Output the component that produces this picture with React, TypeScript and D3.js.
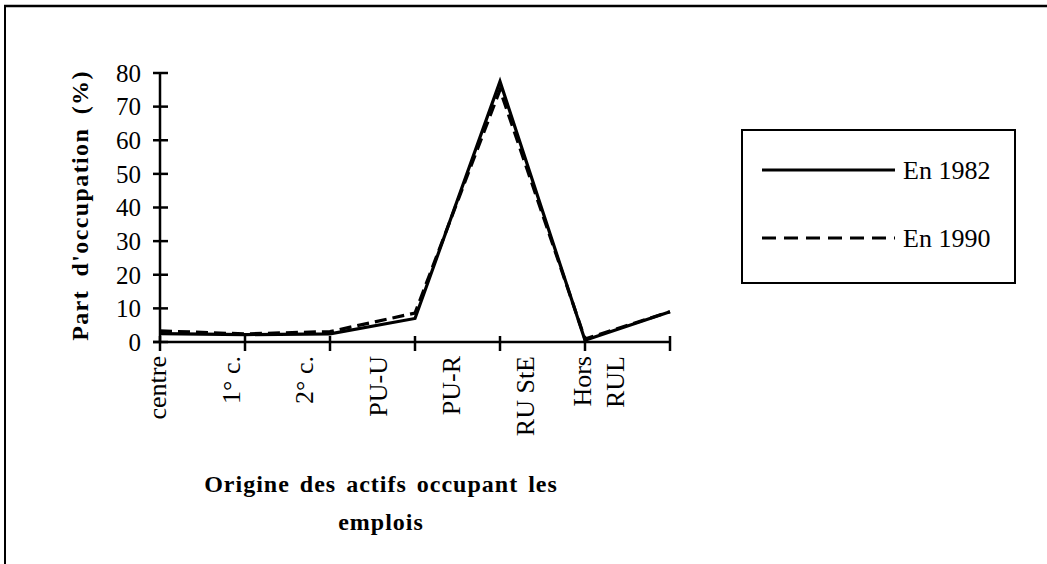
import { useMemo } from 'react';
import * as d3 from 'd3';

const categories = ['centre', '1° c.', '2° c.', 'PU-U', 'PU-R', 'RU StE', 'Hors RUL'];
const values1982 = [2.5, 2.2, 2.4, 7, 77.5, 0.5, 9];
const values1990 = [3.3, 2.4, 3.1, 8.6, 75, 0.9, 9];
const yTickValues = [0, 10, 20, 30, 40, 50, 60, 70, 80];
const seriesNames = ['En 1982', 'En 1990'];

const W = 1047;
const H = 564;
const PLOT = { left: 160, right: 670, top: 73, bottom: 342 };
const FONT = '"Liberation Serif", "Times New Roman", serif';

export default function App() {
  const chart = useMemo(() => {
    const x = d3.scalePoint<string>().domain(categories).range([PLOT.left, PLOT.right]);
    // labels in the scanned original sit on their own, narrower spacing
    const xLabel = d3.scalePoint<string>().domain(categories).range([157, 598]);
    const y = d3.scaleLinear().domain([0, 80]).range([PLOT.bottom, PLOT.top]);
    const line = d3
      .line<number>()
      .x((_, i) => x(categories[i]) ?? 0)
      .y((d) => y(d));
    return {
      x,
      xLabel,
      y,
      path1982: line(values1982) ?? '',
      path1990: line(values1990) ?? '',
    };
  }, []);

  const { x, xLabel, y } = chart;

  return (
    <svg
      width={W}
      height={H}
      viewBox={`0 0 ${W} ${H}`}
      style={{ position: 'absolute', left: 0, top: 0, background: '#fff', display: 'block' }}
      fontFamily={FONT}
    >
      {/* outer frame (only top and left edges visible in scan) */}
      <line x1={4} y1={6} x2={W} y2={6} stroke="#000" strokeWidth={2.5} />
      <line x1={5} y1={5} x2={5} y2={H} stroke="#000" strokeWidth={2} />

      {/* Y axis */}
      <line x1={PLOT.left} y1={y(80)} x2={PLOT.left} y2={y(0)} stroke="#000" strokeWidth={2.5} />
      {yTickValues.map((v) => (
        <g key={v}>
          <line x1={PLOT.left - 7} y1={y(v)} x2={PLOT.left + 8} y2={y(v)} stroke="#000" strokeWidth={2.5} />
          <text x={PLOT.left - 19} y={y(v)} dy="0.35em" textAnchor="end" fontSize={25} fill="#000">
            {v}
          </text>
        </g>
      ))}

      {/* X axis */}
      <line x1={PLOT.left - 7} y1={y(0)} x2={PLOT.right} y2={y(0)} stroke="#000" strokeWidth={2.5} />
      {categories.map((c) => (
        <line
          key={c}
          x1={x(c)}
          y1={y(0) - 6}
          x2={x(c)}
          y2={y(0) + 9}
          stroke="#000"
          strokeWidth={2.5}
        />
      ))}

      {/* X category labels, rotated */}
      {categories.map((c) => {
        const parts = c === 'Hors RUL' ? ['Hors', 'RUL'] : [c];
        const cx = xLabel(c) ?? 0;
        return parts.map((p, i) => {
          const off = (i - (parts.length - 1) / 2) * 33;
          return (
            <text
              key={c + p}
              transform={`translate(${cx + off},${356}) rotate(-90)`}
              dy="0.35em"
              textAnchor="end"
              fontSize={26}
              fill="#000"
            >
              {p}
            </text>
          );
        });
      })}

      {/* Series */}
      <path d={chart.path1982} fill="none" stroke="#000" strokeWidth={3.2} strokeLinejoin="miter" />
      <path
        d={chart.path1990}
        fill="none"
        stroke="#000"
        strokeWidth={3.2}
        strokeDasharray="12,6"
        strokeLinejoin="miter"
      />

      {/* Y axis title */}
      <text
        transform={`translate(88,${(PLOT.top + PLOT.bottom) / 2 - 2}) rotate(-90)`}
        textAnchor="middle"
        fontSize={24}
        fontWeight="bold"
        letterSpacing={1.4}
        wordSpacing={6}
        fill="#000"
      >
        Part d'occupation (%)
      </text>

      {/* X axis title */}
      <text x={381} y={492} textAnchor="middle" fontSize={24} fontWeight="bold" letterSpacing={1} wordSpacing={3} fill="#000">
        Origine des actifs occupant les
      </text>
      <text x={381} y={530} textAnchor="middle" fontSize={24} fontWeight="bold" letterSpacing={1} fill="#000">
        emplois
      </text>

      {/* Legend */}
      <rect x={742} y={130} width={273} height={153} fill="none" stroke="#000" strokeWidth={2} />
      {seriesNames.map((s, i) => {
        const ly = 170 + i * 68;
        return (
          <g key={s}>
            <line
              x1={762}
              y1={ly}
              x2={895}
              y2={ly}
              stroke="#000"
              strokeWidth={3}
              strokeDasharray={i === 1 ? '14,8' : undefined}
            />
            <text x={903} y={ly} dy="0.35em" fontSize={26} fill="#000">
              {s}
            </text>
          </g>
        );
      })}
    </svg>
  );
}
